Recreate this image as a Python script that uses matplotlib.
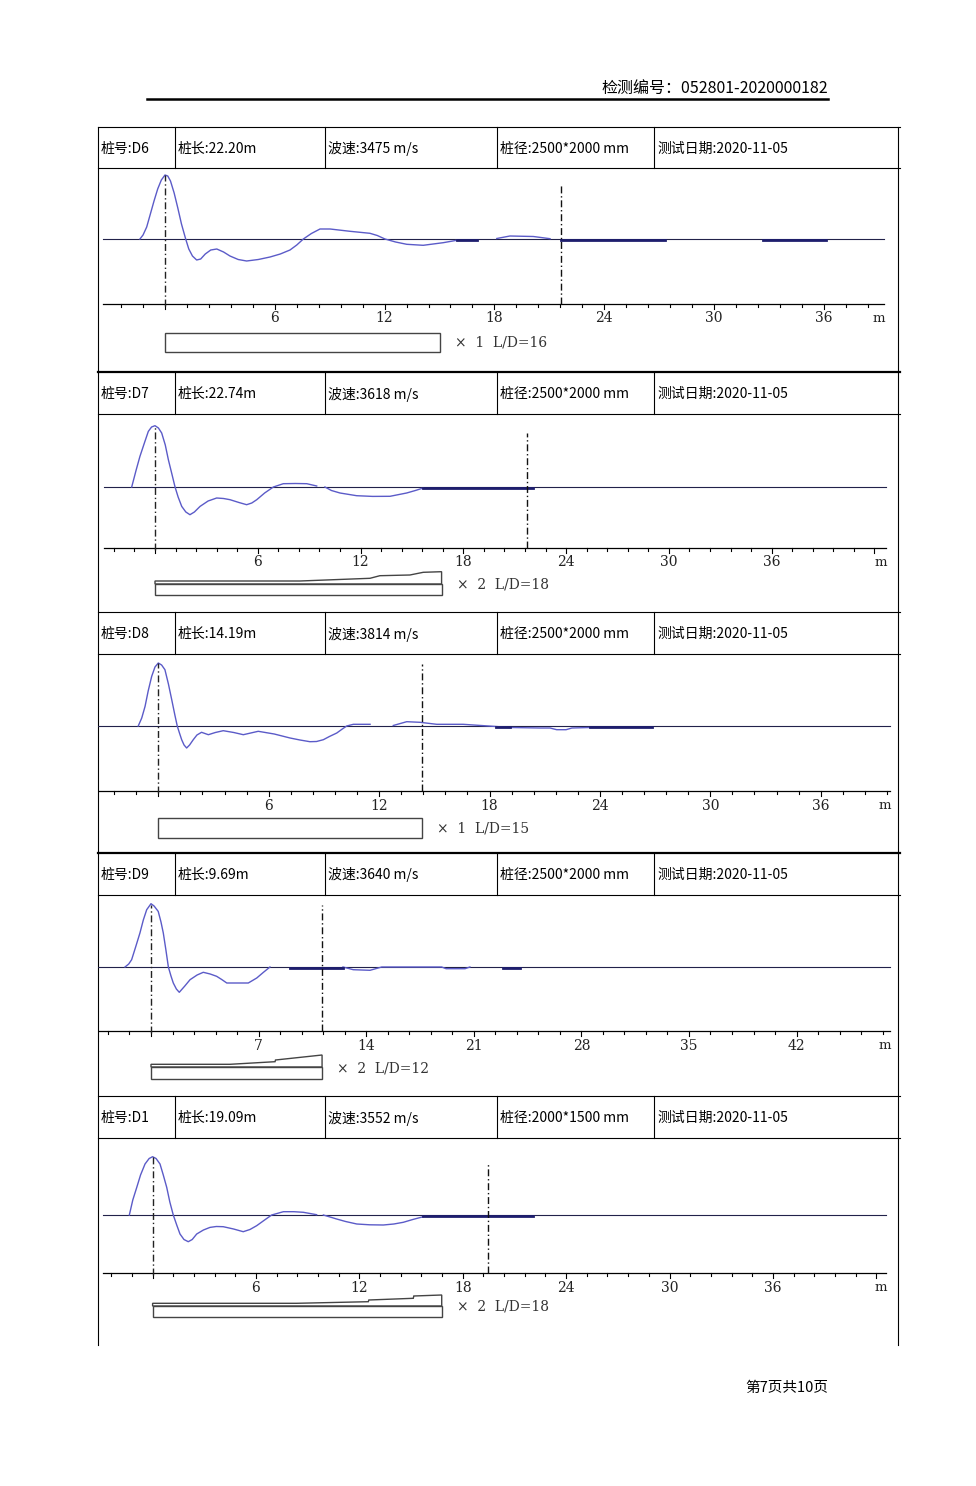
import numpy as np
import matplotlib.pyplot as plt
from matplotlib.patches import Rectangle, Polygon

plt.rcParams['font.family'] = ['Noto Sans CJK SC', 'DejaVu Sans']

W, H = 976, 1486

# ---- header data ----
report_no = '检测编号：052801-2020000182'
page_text = '第7页共10页'
pile_ids = ['D6', 'D7', 'D8', 'D9', 'D1']
pile_lengths = ['22.20', '22.74', '14.19', '9.69', '19.09']
wave_speeds = [3475, 3618, 3814, 3640, 3552]
pile_diams = ['2500*2000', '2500*2000', '2500*2000', '2500*2000', '2000*1500']
test_dates = ['2020-11-05'] * 5
gain = [1, 2, 1, 2, 2]
ld_ratio = [16, 18, 15, 12, 18]
major_step = [6, 6, 6, 7, 6]
pile_end = [21.64, 21.72, 14.33, 11.13, 19.47]
bar_len = [15.03, 16.73, 14.33, 11.13, 16.78]

# ---- velocity curves (x in m, amplitude) ----
d6_x = [-1.37, -1.2, -1.0, -0.8, -0.6, -0.4, -0.2, 0, 0.15, 0.3, 0.5, 0.7, 0.9, 1.13, 1.3,
        1.5, 1.73, 1.95, 2.2, 2.5, 2.83, 3.2, 3.55, 4.0, 4.46, 5.1, 5.74, 6.3, 6.83, 7.2,
        7.56, 8.0, 8.47, 9.02, 10.11, 11.2, 11.6, 12.02, 12.6, 13.21, 14.11, 15.2, 15.94]
d6_y = [0, 4, 12, 25, 38, 50, 59, 64, 63, 58, 46, 31, 15, 0, -10,
        -17, -21, -20, -15, -11, -10, -13, -17, -20.5, -22, -20.5, -18, -15, -11, -6,
        0, 5.5, 10, 10, 7.7, 5.7, 3.5, 0, -3, -5.3, -6.3, -3.7, -1.3]
d6_x2 = [18.13, 18.85, 20.13, 21.04]
d6_y2 = [0.5, 3, 2.5, 0.3]
d6_flat = [(15.94, 17.03), (21.64, 27.32), (32.68, 36.1)]

d7_x = [-1.36, -1.1, -0.88, -0.6, -0.39, -0.2, 0, 0.2, 0.39, 0.6, 0.78, 1.0, 1.17, 1.35, 1.56,
        1.8, 2.04, 2.3, 2.63, 3.1, 3.6, 4.0, 4.38, 4.9, 5.35, 5.65, 5.94, 6.4, 6.91, 7.49,
        8.2, 8.86, 9.44]
d7_y = [0, 17, 30.6, 45, 55.6, 60, 61.3, 59, 54, 42, 27.3, 12, 0, -10, -19.4,
        -25, -27.7, -25, -19.4, -14, -11, -11.5, -12.7, -15.5, -17.7, -16, -12.7, -6, 0, 3.3,
        3.5, 3.3, 1]
d7_x2 = [9.92, 10.3, 10.8, 11.77, 12.7, 13.72, 14.69, 15.2, 15.66]
d7_y2 = [0, -3.5, -6, -8.7, -9.4, -9.3, -6, -3.5, -1]
d7_flat = [(15.66, 22.07)]

d8_x = [-1.09, -0.9, -0.72, -0.55, -0.36, -0.18, 0, 0.18, 0.36, 0.55, 0.73, 0.9, 1.03, 1.15,
        1.27, 1.4, 1.54, 1.7, 1.9, 2.1, 2.35, 2.72, 3.1, 3.53, 4.1, 4.62, 5.43, 6.3, 7.16,
        7.7, 8.24, 8.6, 8.97, 9.3, 9.7, 10.0, 10.24, 10.6, 11.51]
d8_y = [0, 8, 19.6, 35, 49.6, 59, 63, 61, 56.3, 42, 26.3, 11, 0, -7,
        -13.7, -19, -22, -19, -13.7, -9, -6.3, -8.7, -6.5, -4.7, -6.5, -8.7, -5.3, -8, -12,
        -14, -15.7, -15.5, -13.7, -10.5, -7, -3, 0, 1.7, 1.7]
d8_x2 = [12.77, 13.5, 14.22, 15.13, 16.13, 16.56, 18.35, 19.11, 20.75, 21.29, 21.65,
         22.16, 22.48, 23.46]
d8_y2 = [0.5, 4.3, 3.7, 1.7, 1.7, 1.7, -0.5, -1.5, -2, -2, -3.7, -3.7, -2, -1.5]
d8_flat = [(18.35, 19.11), (23.46, 26.82)]

d9_x = [-1.69, -1.45, -1.26, -1.0, -0.72, -0.5, -0.28, 0, 0.2, 0.47, 0.65, 0.8, 0.97, 1.13,
        1.3, 1.45, 1.65, 1.84, 2.2, 2.54, 3.0, 3.4, 3.85, 4.27, 4.6, 4.93, 5.6, 6.33, 6.88,
        7.3, 7.74]
d9_y = [0, 3, 7.3, 20, 34, 47, 57.3, 63.3, 61, 55.6, 45, 34, 17, 0,
        -9, -16, -22, -25.3, -19, -12.7, -8, -5.3, -7, -9.3, -12.5, -16, -16, -16, -11,
        -5.5, 0]
d9_x2 = [12.49, 13.16, 14.25, 15.01, 18.91, 19.2, 20.43, 20.75]
d9_y2 = [0, -2.7, -3.3, 0, 0, -1.7, -1.7, 0]
d9_flat = [(9.04, 12.49), (22.9, 24.0)]

d1_x = [-1.35, -1.15, -0.92, -0.7, -0.44, -0.2, 0, 0.2, 0.43, 0.62, 0.82, 1.0, 1.2, 1.4, 1.59,
        1.82, 2.07, 2.3, 2.56, 2.95, 3.33, 3.7, 4.1, 4.7, 5.26, 5.65, 6.04, 6.5, 6.91, 7.59,
        8.2, 8.75, 9.52]
d1_y = [0, 15, 27.6, 40, 51, 56.5, 58.3, 56.5, 51, 40, 27.6, 13, 0, -10, -19,
        -24.5, -26.7, -24.5, -19, -15, -12.4, -11.5, -11.7, -14, -16.7, -14.5, -10.7, -5, 0, 3.3,
        3.3, 2.7, 0.3]
d1_x2 = [9.91, 10.3, 10.68, 11.2, 11.85, 12.6, 13.39, 14.0, 14.55, 15.1, 15.71]
d1_y2 = [0, -2, -4, -6.5, -9, -9.8, -10, -9, -7.3, -4.5, -1.7]
d1_flat = [(15.71, 22.08)]

# pile profile (x2 bars): position along pile (m), bulge height
d7_prof_x = [0, 8.46, 12.55, 13.13, 14.88, 15.66, 16.73]
d7_prof_h = [3, 3, 5.7, 8.3, 9, 11.7, 12.3]
d9_prof_x = [0, 5.14, 8.07, 8.1, 11.13]
d9_prof_h = [2.7, 2.7, 5.3, 7, 12]
d1_prof_x = [0, 8.36, 12.52, 12.55, 15.13, 15.16, 16.78]
d1_prof_h = [2.7, 2.7, 4.3, 6, 7.7, 10, 11]

curves = [(d6_x, d6_y, d6_x2, d6_y2, d6_flat),
          (d7_x, d7_y, d7_x2, d7_y2, d7_flat),
          (d8_x, d8_y, d8_x2, d8_y2, d8_flat),
          (d9_x, d9_y, d9_x2, d9_y2, d9_flat),
          (d1_x, d1_y, d1_x2, d1_y2, d1_flat)]
profiles = [None, (d7_prof_x, d7_prof_h), None, (d9_prof_x, d9_prof_h), (d1_prof_x, d1_prof_h)]

# ---- page layout (pixels) ----
# header top, chart top, chart bottom, baseline y, axis y, zero x, px per m,
# axis left, axis right, bar top, bar bottom, peak top, end-line top
layout = [
    (127, 168, 372, 239, 304, 165.0, 18.3, 103, 884, 333, 352, 175, 185),
    (372, 414, 612, 487, 548, 155.0, 17.13, 104, 886, 584, 595, 427, 433),
    (612, 654, 853, 726, 791, 158.3, 18.4, 98, 890, 818, 838, 663, 664),
    (853, 895, 1096, 967, 1031, 151.0, 15.37, 98, 890, 1067, 1079, 905, 905),
    (1096, 1138, 1345, 1215, 1273, 152.6, 17.23, 103, 886, 1306, 1317, 1157, 1163),
]
col_x = [98, 175, 325, 497, 654, 898]
TL, TR = 98, 898

fig = plt.figure(figsize=(W / 100, H / 100), dpi=100)
page = fig.add_axes([0, 0, 1, 1])
page.set_xlim(0, W)
page.set_ylim(H, 0)
page.axis('off')

# report header
page.text(828, 88, report_no, ha='right', va='center', fontsize=11.5)
page.plot([147, 828], [99, 99], color='black', lw=1.8)
page.text(828, 1388, page_text, ha='right', va='center', fontsize=10.5)

# outer table verticals
page.plot([TL, TL], [127, 1345], color='black', lw=0.8)
page.plot([TR, TR], [127, 1345], color='black', lw=0.8)
page.plot([TL, TR + 2], [127, 127], color='black', lw=0.8)

trace_c = '#5b5bc8'
flat_c = '#1e1e6e'
serif = 'DejaVu Serif'

for i, lay in enumerate(layout):
    (htop, ctop, cbot, base, axy, x0, s, axl, axr, btop, bbot, ptop, etop) = lay

    # header row
    lw_top = 1.6 if i in (1, 3) else 0.8
    if i > 0:
        page.plot([TL, TR + 2], [htop, htop], color='black', lw=lw_top)
    page.plot([TL, TR + 2], [ctop, ctop], color='black', lw=0.8)
    for cx in col_x[1:-1]:
        page.plot([cx, cx], [htop, ctop], color='black', lw=0.8)
    cells = ['桩号:' + pile_ids[i], '桩长:' + pile_lengths[i] + 'm',
             '波速:%d m/s' % wave_speeds[i], '桩径:' + pile_diams[i] + ' mm',
             '测试日期:' + test_dates[i]]
    for cx, txt in zip(col_x[:-1], cells):
        page.text(cx + 3, (htop + ctop) / 2 + 1, txt, ha='left', va='center', fontsize=10)

    # chart axes: x in metres, y amplitude (1 unit = 1 px above baseline)
    ax = fig.add_axes([TL / W, 1 - cbot / H, (TR - TL) / W, (cbot - ctop) / H])
    ax.set_xlim((TL - x0) / s, (TR - x0) / s)
    ax.set_ylim(base - cbot, base - ctop)
    ax.axis('off')

    xl, xr = (axl - x0) / s, (axr - x0) / s
    ya = base - axy

    # baseline and axis
    ax.plot([xl, xr], [0, 0], color='#22224a', lw=0.8, zorder=2)
    ax.plot([xl, xr], [ya, ya], color='black', lw=0.9)

    # ticks
    step = major_step[i] / 5
    ticks = np.arange(np.ceil(xl / step) * step, xr, step)
    for t in ticks:
        k = int(round(t / step))
        is_major = k % 5 == 0
        ax.plot([t, t], [ya, ya - (5 if is_major else 3)], color='black', lw=0.8)
        px = x0 + t * s
        if is_major and t > 0 and px < axr - 15:
            ax.text(t, ya - 14.5, '%d' % round(t), ha='center', va='center',
                    fontsize=10, family=serif, color='#222222')
    ax.text((axr - 5 - x0) / s, ya - 14.5, 'm', ha='center', va='center',
            fontsize=9.5, family=serif, color='#222222')

    # waveform
    cx1, cy1, cx2, cy2, flats = curves[i]
    ax.plot(cx1, cy1, color=trace_c, lw=1.0, zorder=3)
    ax.plot(cx2, cy2, color=trace_c, lw=1.0, zorder=3)
    for a, b in flats:
        ax.plot([a, b], [-0.6, -0.6], color=flat_c, lw=2.0, zorder=3)

    # marker lines: incident peak and pile toe
    dash = (0, (5, 2, 1, 2))
    ax.plot([0, 0], [ya - 2, base - ptop], color='#222222', lw=1.0, ls=dash, zorder=4)
    ax.plot([pile_end[i], pile_end[i]], [ya, base - etop], color='#111111', lw=1.0,
            ls=dash, zorder=4)

    # pile sketch under axis
    y_top, y_bot = base - btop, base - bbot
    ax.add_patch(Rectangle((0, y_bot), bar_len[i], y_top - y_bot, fill=False,
                           ec='#444444', lw=1.0))
    if profiles[i] is not None:
        px_, ph_ = profiles[i]
        pts = [(0, y_top)] + [(x, y_top + h) for x, h in zip(px_, ph_)] + [(bar_len[i], y_top)]
        ax.add_patch(Polygon(pts, closed=True, fill=False, ec='#444444', lw=1.0))
        ty = y_top - 1
    else:
        ty = (y_top + y_bot) / 2
    ax.text(bar_len[i] + 15 / s, ty, '×  %d  L/D=%d' % (gain[i], ld_ratio[i]),
            ha='left', va='center', fontsize=10, family=serif, color='#333333')

fig.savefig('out.png', dpi=100)
